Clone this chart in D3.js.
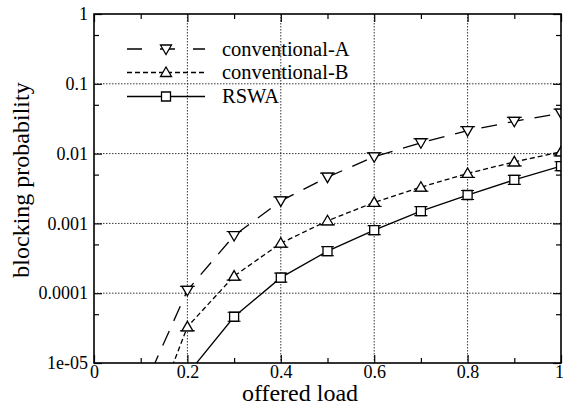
<!DOCTYPE html>
<html>
<head>
<meta charset="utf-8">
<script src="https://cdn.jsdelivr.net/npm/d3@7"></script>
</head>
<body style="margin:0;padding:0;background:#fff">
<svg id="chart" width="563" height="405" style="display:block"></svg>
<script>
// ---- data ----
const loadsAB = [0.1, 0.2, 0.3, 0.4, 0.5, 0.6, 0.7, 0.8, 0.9, 1.0];
const convA   = [3.5e-6, 1.1e-4, 6.7e-4, 2.1e-3, 4.6e-3, 9.0e-3, 0.0143, 0.0213, 0.029, 0.038];
const convB   = [6e-7, 3.3e-5, 1.76e-4, 5.2e-4, 1.09e-3, 2.0e-3, 3.3e-3, 5.2e-3, 7.6e-3, 0.0106];
const loadsR  = [0.2, 0.3, 0.4, 0.5, 0.6, 0.7, 0.8, 0.9, 1.0];
const rswa    = [6.9e-6, 4.6e-5, 1.67e-4, 4.0e-4, 8.0e-4, 1.5e-3, 2.55e-3, 4.2e-3, 6.6e-3];

const seriesNames = ["conventional-A", "conventional-B", "RSWA"];
const xMajorTicks = [0, 0.2, 0.4, 0.6, 0.8, 1];
const xMajorLabels = ["0", "0.2", "0.4", "0.6", "0.8", "1"];
const xMinorTicks = [0.1, 0.3, 0.5, 0.7, 0.9];
const yMajorTicks = [1, 0.1, 0.01, 0.001, 0.0001, 0.00001];
const yMajorLabels = ["1", "0.1", "0.01", "0.001", "0.0001", "1e-05"];
const yMinorTicks = [0.5, 0.05, 0.005, 0.0005, 0.00005];
const xTitle = "offered load";
const yTitle = "blocking probability";

const FONT = '"Liberation Serif", "Times New Roman", Times, serif';

// ---- layout ----
const L = 94, R = 561, T = 14, B = 363;
const svg = d3.select("#chart");
const x = d3.scaleLinear().domain([0, 1]).range([L, R]);
const y = d3.scaleLog().domain([1e-5, 1]).range([B, T]);

svg.append("defs").append("clipPath").attr("id", "plotclip")
  .append("rect").attr("x", L).attr("y", T).attr("width", R - L).attr("height", B - T);

// grid
const grid = svg.append("g").attr("stroke", "#000").attr("stroke-width", 0.8)
  .attr("stroke-dasharray", "1.5,1.5");
xMajorTicks.filter(v => v > 0 && v < 1).forEach(v => {
  grid.append("line").attr("x1", x(v)).attr("x2", x(v)).attr("y1", T).attr("y2", B);
});
yMajorTicks.filter(v => v < 1 && v > 1e-5).forEach(v => {
  grid.append("line").attr("x1", L).attr("x2", R).attr("y1", y(v)).attr("y2", y(v));
});

// axes
function styleAxis(g) {
  g.attr("font-family", null).attr("font-size", null);
  g.select(".domain").remove();
  g.selectAll(".tick line").attr("stroke", "#000").attr("stroke-width", 1.2);
  g.selectAll(".tick text").style("font-size", "18px").style("font-family", FONT).attr("fill", "#000");
}
svg.append("g").attr("transform", `translate(0,${B})`)
  .call(d3.axisBottom(x).tickValues(xMajorTicks).tickSize(-8).tickPadding(2)
    .tickFormat(d => xMajorLabels[xMajorTicks.indexOf(d)]))
  .call(styleAxis)
  .call(g => g.selectAll(".tick text").filter(d => d === 1).attr("x", -2));
svg.append("g").attr("transform", `translate(0,${B})`)
  .call(d3.axisBottom(x).tickValues(xMinorTicks).tickSize(-5).tickFormat(""))
  .call(styleAxis);
svg.append("g").attr("transform", `translate(0,${T})`)
  .call(d3.axisTop(x).tickValues(xMajorTicks).tickSize(-8).tickFormat(""))
  .call(styleAxis);
svg.append("g").attr("transform", `translate(0,${T})`)
  .call(d3.axisTop(x).tickValues(xMinorTicks).tickSize(-5).tickFormat(""))
  .call(styleAxis);
svg.append("g").attr("transform", `translate(${L},0)`)
  .call(d3.axisLeft(y).tickValues(yMajorTicks).tickSize(-8).tickPadding(6)
    .tickFormat(d => yMajorLabels[yMajorTicks.indexOf(d)]))
  .call(styleAxis);
svg.append("g").attr("transform", `translate(${L},0)`)
  .call(d3.axisLeft(y).tickValues(yMinorTicks).tickSize(-5).tickFormat(""))
  .call(styleAxis);
svg.append("g").attr("transform", `translate(${R},0)`)
  .call(d3.axisRight(y).tickValues(yMajorTicks).tickSize(-8).tickFormat(""))
  .call(styleAxis);
svg.append("g").attr("transform", `translate(${R},0)`)
  .call(d3.axisRight(y).tickValues(yMinorTicks).tickSize(-5).tickFormat(""))
  .call(styleAxis);

// series
const series = [
  { name: seriesNames[0], xs: loadsAB, ys: convA, dash: "16,11", legendDash: "15,18", marker: "down" },
  { name: seriesNames[1], xs: loadsAB, ys: convB, dash: "5,3", legendDash: "5,3", marker: "up" },
  { name: seriesNames[2], xs: loadsR, ys: rswa, dash: null, legendDash: null, marker: "square" }
];

function markerPath(type, cx, cy) {
  if (type === "down") return `M${cx-5.5},${cy-4}L${cx+5.5},${cy-4}L${cx},${cy+5.5}Z`;
  if (type === "up") return `M${cx-5.5},${cy+4}L${cx+5.5},${cy+4}L${cx},${cy-5.5}Z`;
  return `M${cx-4.5},${cy-4.5}h9v9h-9Z`;
}
function capPath(type, cx, cy) {
  if (type === "down") return `M${cx-7.5},${cy-4}h15`;
  if (type === "up") return `M${cx-7.5},${cy+4}h15`;
  return `M${cx-6.5},${cy-4.5}h13M${cx-6.5},${cy+4.5}h13`;
}

const plot = svg.append("g").attr("clip-path", "url(#plotclip)");
const line = d3.line().x(d => x(d[0])).y(d => y(d[1]));
series.forEach(s => {
  const pts = s.xs.map((v, i) => [v, s.ys[i]]);
  plot.append("path").attr("d", line(pts)).attr("fill", "none")
    .attr("stroke", "#000").attr("stroke-width", 1.3)
    .attr("stroke-dasharray", s.dash);
  pts.filter(p => p[1] >= 1e-5).forEach(p => {
    const cx = x(p[0]), cy = y(p[1]);
    plot.append("path").attr("d", capPath(s.marker, cx, cy))
      .attr("stroke", "#000").attr("stroke-width", 1.1).attr("fill", "none");
    plot.append("path").attr("d", markerPath(s.marker, cx, cy))
      .attr("fill", "#fff").attr("stroke", "#000").attr("stroke-width", 1.3);
  });
});

// legend
const legRows = [49, 72.5, 96.5];
series.forEach((s, i) => {
  const ly = legRows[i];
  svg.append("line").attr("x1", 127).attr("x2", 205).attr("y1", ly).attr("y2", ly)
    .attr("stroke", "#000").attr("stroke-width", 1.3).attr("stroke-dasharray", s.legendDash);
  svg.append("path").attr("d", markerPath(s.marker, 166, ly))
    .attr("fill", "#fff").attr("stroke", "#000").attr("stroke-width", 1.3);
  svg.append("text").attr("x", 222).attr("y", ly + 6.5)
    .style("font-family", FONT).style("font-size", "20.5px").attr("fill", "#000").text(s.name);
});

// frame
svg.append("rect").attr("x", L).attr("y", T).attr("width", R - L).attr("height", B - T)
  .attr("fill", "none").attr("stroke", "#000").attr("stroke-width", 1.6);

// titles
svg.append("text").attr("x", 300).attr("y", 401).attr("text-anchor", "middle")
  .style("font-family", FONT).style("font-size", "24px").attr("fill", "#000").text(xTitle);
svg.append("text").attr("transform", "translate(29,180) rotate(-90)").attr("text-anchor", "middle")
  .style("font-family", FONT).style("font-size", "24px").attr("fill", "#000").text(yTitle);
</script>
</body>
</html>
